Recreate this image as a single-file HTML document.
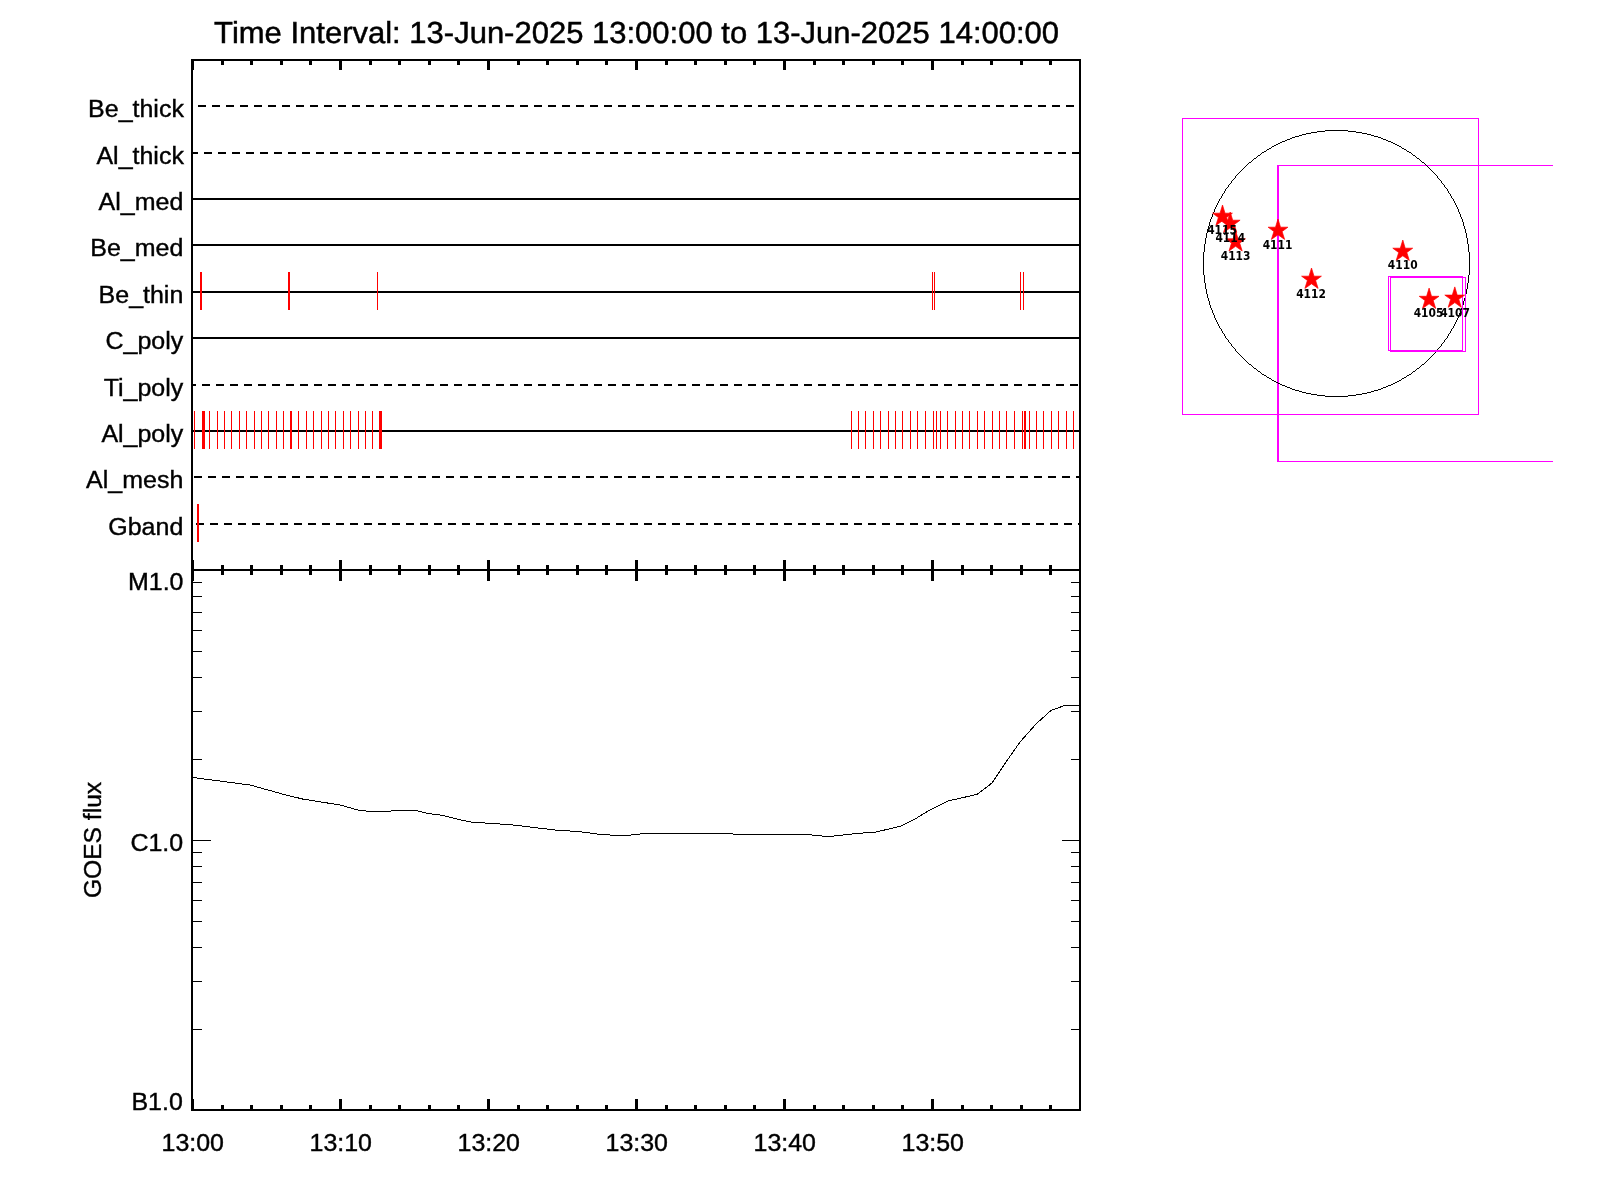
<!DOCTYPE html>
<html lang="en"><head><meta charset="utf-8"><title>Time Interval: 13-Jun-2025 13:00:00 to 13-Jun-2025 14:00:00</title>
<style>
html,body{margin:0;padding:0;background:#fff;}
body{width:1600px;height:1200px;overflow:hidden;}
svg{display:block;will-change:transform;}
text{font-family:"Liberation Sans",Arial,Helvetica,sans-serif;fill:#000;stroke:#000;stroke-width:0.4px;}
.lab{font-size:24.5px;text-anchor:end;}
.xl{font-size:24.5px;text-anchor:middle;}
.ttl{text-rendering:geometricPrecision;font-size:30.4px;text-anchor:middle;stroke-width:0.5px;}
.ar{stroke:none;font-family:"DejaVu Sans","Liberation Sans",sans-serif;font-weight:bold;font-size:10.7px;text-anchor:middle;}
.k{stroke:#000;fill:none;}
.r{fill:#f00;}
.m{stroke:#f0f;fill:none;stroke-width:1;}
</style></head><body>
<svg width="1600" height="1200" viewBox="0 0 1600 1200" shape-rendering="crispEdges">
<rect x="0" y="0" width="1600" height="1200" fill="#fff"/>
<text class="ttl" transform="translate(636.6,43) scale(1.02,1)">Time Interval: 13-Jun-2025 13:00:00 to 13-Jun-2025 14:00:00</text>
<line class="k" x1="192" y1="106" x2="1080" y2="106" stroke-width="2" stroke-dasharray="8 6" stroke-dashoffset="8"/>
<text class="lab" transform="translate(183.9,116.5) scale(1.02,1)">Be_thick</text>
<line class="k" x1="192" y1="153" x2="1080" y2="153" stroke-width="2" stroke-dasharray="8 6" stroke-dashoffset="2"/>
<text class="lab" transform="translate(183.9,163.5) scale(1.02,1)">Al_thick</text>
<line class="k" x1="192" y1="199" x2="1080" y2="199" stroke-width="2"/>
<text class="lab" transform="translate(183.3,209.5) scale(1.02,1)">Al_med</text>
<line class="k" x1="192" y1="245" x2="1080" y2="245" stroke-width="2"/>
<text class="lab" transform="translate(183.3,255.5) scale(1.02,1)">Be_med</text>
<line class="k" x1="192" y1="292" x2="1080" y2="292" stroke-width="2"/>
<text class="lab" transform="translate(183.3,302.5) scale(1.02,1)">Be_thin</text>
<line class="k" x1="192" y1="338" x2="1080" y2="338" stroke-width="2"/>
<text class="lab" transform="translate(183.3,348.5) scale(1.02,1)">C_poly</text>
<line class="k" x1="192" y1="385" x2="1080" y2="385" stroke-width="2" stroke-dasharray="8 6" stroke-dashoffset="4"/>
<text class="lab" transform="translate(183.3,395.5) scale(1.02,1)">Ti_poly</text>
<line class="k" x1="192" y1="431" x2="1080" y2="431" stroke-width="2"/>
<text class="lab" transform="translate(183.3,441.5) scale(1.02,1)">Al_poly</text>
<line class="k" x1="192" y1="477" x2="1080" y2="477" stroke-width="2" stroke-dasharray="8 6" stroke-dashoffset="12"/>
<text class="lab" transform="translate(183.3,487.5) scale(1.02,1)">Al_mesh</text>
<line class="k" x1="192" y1="524" x2="1080" y2="524" stroke-width="2" stroke-dasharray="8 6" stroke-dashoffset="10"/>
<text class="lab" transform="translate(183.3,534.5) scale(1.02,1)">Gband</text>
<rect class="r" x="200" y="272" width="2" height="38"/>
<rect class="r" x="288" y="272" width="2" height="38"/>
<rect class="r" x="377" y="272" width="1" height="38"/>
<rect class="r" x="932" y="272" width="1" height="38"/>
<rect class="r" x="934" y="272" width="1" height="38"/>
<rect class="r" x="1020" y="272" width="1" height="38"/>
<rect class="r" x="1023" y="272" width="1" height="38"/>
<rect class="r" x="194" y="411" width="1" height="38"/>
<rect class="r" x="202" y="411" width="3" height="38"/>
<rect class="r" x="209" y="411" width="1" height="38"/>
<rect class="r" x="217" y="411" width="1" height="38"/>
<rect class="r" x="224" y="411" width="1" height="38"/>
<rect class="r" x="231" y="411" width="1" height="38"/>
<rect class="r" x="239" y="411" width="1" height="38"/>
<rect class="r" x="246" y="411" width="1" height="38"/>
<rect class="r" x="254" y="411" width="1" height="38"/>
<rect class="r" x="261" y="411" width="1" height="38"/>
<rect class="r" x="268" y="411" width="1" height="38"/>
<rect class="r" x="276" y="411" width="1" height="38"/>
<rect class="r" x="283" y="411" width="1" height="38"/>
<rect class="r" x="290" y="411" width="2" height="38"/>
<rect class="r" x="298" y="411" width="1" height="38"/>
<rect class="r" x="306" y="411" width="1" height="38"/>
<rect class="r" x="313" y="411" width="1" height="38"/>
<rect class="r" x="321" y="411" width="1" height="38"/>
<rect class="r" x="328" y="411" width="1" height="38"/>
<rect class="r" x="335" y="411" width="1" height="38"/>
<rect class="r" x="343" y="411" width="1" height="38"/>
<rect class="r" x="350" y="411" width="1" height="38"/>
<rect class="r" x="358" y="411" width="1" height="38"/>
<rect class="r" x="365" y="411" width="1" height="38"/>
<rect class="r" x="372" y="411" width="1" height="38"/>
<rect class="r" x="379" y="411" width="3" height="38"/>
<rect class="r" x="851" y="411" width="1" height="38"/>
<rect class="r" x="858" y="411" width="1" height="38"/>
<rect class="r" x="865" y="411" width="1" height="38"/>
<rect class="r" x="873" y="411" width="1" height="38"/>
<rect class="r" x="880" y="411" width="1" height="38"/>
<rect class="r" x="888" y="411" width="1" height="38"/>
<rect class="r" x="895" y="411" width="1" height="38"/>
<rect class="r" x="902" y="411" width="1" height="38"/>
<rect class="r" x="910" y="411" width="1" height="38"/>
<rect class="r" x="917" y="411" width="1" height="38"/>
<rect class="r" x="925" y="411" width="1" height="38"/>
<rect class="r" x="933" y="411" width="1" height="38"/>
<rect class="r" x="936" y="411" width="1" height="38"/>
<rect class="r" x="940" y="411" width="1" height="38"/>
<rect class="r" x="947" y="411" width="1" height="38"/>
<rect class="r" x="955" y="411" width="1" height="38"/>
<rect class="r" x="962" y="411" width="1" height="38"/>
<rect class="r" x="969" y="411" width="1" height="38"/>
<rect class="r" x="977" y="411" width="1" height="38"/>
<rect class="r" x="984" y="411" width="1" height="38"/>
<rect class="r" x="992" y="411" width="1" height="38"/>
<rect class="r" x="999" y="411" width="1" height="38"/>
<rect class="r" x="1006" y="411" width="1" height="38"/>
<rect class="r" x="1014" y="411" width="1" height="38"/>
<rect class="r" x="1022" y="411" width="1" height="38"/>
<rect class="r" x="1029" y="411" width="1" height="38"/>
<rect class="r" x="1036" y="411" width="1" height="38"/>
<rect class="r" x="1043" y="411" width="1" height="38"/>
<rect class="r" x="1051" y="411" width="1" height="38"/>
<rect class="r" x="1058" y="411" width="1" height="38"/>
<rect class="r" x="1066" y="411" width="1" height="38"/>
<rect class="r" x="1073" y="411" width="1" height="38"/>
<rect class="r" x="1024" y="411" width="2" height="38"/>
<rect class="r" x="197" y="504" width="2" height="38"/>
<path class="k" stroke-width="2" d="M192 1110V60H1080V1110H191"/>
<line class="k" stroke-width="2" x1="192" y1="570" x2="1080" y2="570"/>
<rect x="191" y="59" width="3" height="11"/><rect x="191" y="560" width="3" height="21"/><rect x="191" y="1099" width="3" height="12"/>
<rect x="221" y="59" width="3" height="6"/><rect x="221" y="565" width="3" height="10"/><rect x="221" y="1105" width="3" height="6"/>
<rect x="250" y="59" width="3" height="6"/><rect x="250" y="565" width="3" height="10"/><rect x="250" y="1105" width="3" height="6"/>
<rect x="280" y="59" width="3" height="6"/><rect x="280" y="565" width="3" height="10"/><rect x="280" y="1105" width="3" height="6"/>
<rect x="309" y="59" width="3" height="6"/><rect x="309" y="565" width="3" height="10"/><rect x="309" y="1105" width="3" height="6"/>
<rect x="339" y="59" width="3" height="11"/><rect x="339" y="560" width="3" height="21"/><rect x="339" y="1099" width="3" height="12"/>
<rect x="369" y="59" width="3" height="6"/><rect x="369" y="565" width="3" height="10"/><rect x="369" y="1105" width="3" height="6"/>
<rect x="398" y="59" width="3" height="6"/><rect x="398" y="565" width="3" height="10"/><rect x="398" y="1105" width="3" height="6"/>
<rect x="428" y="59" width="3" height="6"/><rect x="428" y="565" width="3" height="10"/><rect x="428" y="1105" width="3" height="6"/>
<rect x="457" y="59" width="3" height="6"/><rect x="457" y="565" width="3" height="10"/><rect x="457" y="1105" width="3" height="6"/>
<rect x="487" y="59" width="3" height="11"/><rect x="487" y="560" width="3" height="21"/><rect x="487" y="1099" width="3" height="12"/>
<rect x="517" y="59" width="3" height="6"/><rect x="517" y="565" width="3" height="10"/><rect x="517" y="1105" width="3" height="6"/>
<rect x="546" y="59" width="3" height="6"/><rect x="546" y="565" width="3" height="10"/><rect x="546" y="1105" width="3" height="6"/>
<rect x="576" y="59" width="3" height="6"/><rect x="576" y="565" width="3" height="10"/><rect x="576" y="1105" width="3" height="6"/>
<rect x="605" y="59" width="3" height="6"/><rect x="605" y="565" width="3" height="10"/><rect x="605" y="1105" width="3" height="6"/>
<rect x="635" y="59" width="3" height="11"/><rect x="635" y="560" width="3" height="21"/><rect x="635" y="1099" width="3" height="12"/>
<rect x="665" y="59" width="3" height="6"/><rect x="665" y="565" width="3" height="10"/><rect x="665" y="1105" width="3" height="6"/>
<rect x="694" y="59" width="3" height="6"/><rect x="694" y="565" width="3" height="10"/><rect x="694" y="1105" width="3" height="6"/>
<rect x="724" y="59" width="3" height="6"/><rect x="724" y="565" width="3" height="10"/><rect x="724" y="1105" width="3" height="6"/>
<rect x="753" y="59" width="3" height="6"/><rect x="753" y="565" width="3" height="10"/><rect x="753" y="1105" width="3" height="6"/>
<rect x="783" y="59" width="3" height="11"/><rect x="783" y="560" width="3" height="21"/><rect x="783" y="1099" width="3" height="12"/>
<rect x="813" y="59" width="3" height="6"/><rect x="813" y="565" width="3" height="10"/><rect x="813" y="1105" width="3" height="6"/>
<rect x="842" y="59" width="3" height="6"/><rect x="842" y="565" width="3" height="10"/><rect x="842" y="1105" width="3" height="6"/>
<rect x="872" y="59" width="3" height="6"/><rect x="872" y="565" width="3" height="10"/><rect x="872" y="1105" width="3" height="6"/>
<rect x="901" y="59" width="3" height="6"/><rect x="901" y="565" width="3" height="10"/><rect x="901" y="1105" width="3" height="6"/>
<rect x="931" y="59" width="3" height="11"/><rect x="931" y="560" width="3" height="21"/><rect x="931" y="1099" width="3" height="12"/>
<rect x="961" y="59" width="3" height="6"/><rect x="961" y="565" width="3" height="10"/><rect x="961" y="1105" width="3" height="6"/>
<rect x="990" y="59" width="3" height="6"/><rect x="990" y="565" width="3" height="10"/><rect x="990" y="1105" width="3" height="6"/>
<rect x="1020" y="59" width="3" height="6"/><rect x="1020" y="565" width="3" height="10"/><rect x="1020" y="1105" width="3" height="6"/>
<rect x="1049" y="59" width="3" height="6"/><rect x="1049" y="565" width="3" height="10"/><rect x="1049" y="1105" width="3" height="6"/>
<path class="k" stroke-width="1" d="M192 759.5h10 M1080 759.5h-9 M192 711.5h10 M1080 711.5h-9 M192 677.5h10 M1080 677.5h-9 M192 651.5h10 M1080 651.5h-9 M192 630.5h10 M1080 630.5h-9 M192 612.5h10 M1080 612.5h-9 M192 596.5h10 M1080 596.5h-9 M192 582.5h10 M1080 582.5h-9 M192 1029.5h10 M1080 1029.5h-9 M192 981.5h10 M1080 981.5h-9 M192 947.5h10 M1080 947.5h-9 M192 921.5h10 M1080 921.5h-9 M192 900.5h10 M1080 900.5h-9 M192 882.5h10 M1080 882.5h-9 M192 866.5h10 M1080 866.5h-9 M192 852.5h10 M1080 852.5h-9 M192 840.5h19 M1080 840.5h-18"/>
<text class="lab" transform="translate(183.5,590) scale(1.02,1)">M1.0</text>
<text class="lab" transform="translate(183.2,851) scale(1.02,1)">C1.0</text>
<text class="lab" transform="translate(182.8,1110) scale(1.02,1)">B1.0</text>
<text class="xl" transform="translate(101.1,840) rotate(-90) scale(1.005,1)">GOES flux</text>
<text class="xl" transform="translate(192.75,1150.5) scale(1.02,1)">13:00</text>
<text class="xl" transform="translate(340.75,1150.5) scale(1.02,1)">13:10</text>
<text class="xl" transform="translate(488.75,1150.5) scale(1.02,1)">13:20</text>
<text class="xl" transform="translate(636.75,1150.5) scale(1.02,1)">13:30</text>
<text class="xl" transform="translate(784.75,1150.5) scale(1.02,1)">13:40</text>
<text class="xl" transform="translate(932.75,1150.5) scale(1.02,1)">13:50</text>
<polyline class="k" stroke-width="1" shape-rendering="crispEdges" points="192.8,777.5 250.0,785.0 283.8,794.4 302.5,799.0 340.0,805.0 358.8,810.3 368.0,811.2 390.6,811.2 394.4,810.3 415.0,810.3 428.0,813.5 443.0,815.4 461.9,820.2 471.2,822.0 490.0,823.4 510.0,824.6 555.0,830.0 579.4,831.6 600.0,834.4 615.0,835.3 628.0,835.3 645.0,833.4 732.0,833.4 734.0,834.4 806.0,834.4 822.0,836.0 834.0,836.0 856.0,833.6 876.0,832.0 900.0,826.4 916.0,818.4 930.0,810.0 948.0,801.0 977.0,794.4 992.0,783.0 1006.0,762.0 1020.0,742.0 1036.0,724.0 1051.0,710.4 1065.0,705.4 1079.0,705.4"/>
<rect class="m" x="1182.5" y="118.5" width="296" height="296"/>
<path class="m" d="M1553 165.5H1277.5V461.5H1553"/>
<path class="m" d="M1278.5 166V461"/>
<path fill="#000" d="M1317 395h8v1h-8zM1348 395h8v1h-8zM1299 135h3v1h-3zM1371 135h3v1h-3zM1317 131h8v1h-8zM1348 131h8v1h-8zM1299 391h3v1h-3zM1371 391h3v1h-3zM1295 136h4v1h-4zM1374 136h4v1h-4zM1311 132h6v1h-6zM1356 132h6v1h-6zM1325 396h23v1h-23zM1292 389h3v1h-3zM1378 389h3v1h-3zM1311 394h6v1h-6zM1356 394h6v1h-6zM1287 387h3v1h-3zM1383 387h3v1h-3zM1287 139h3v1h-3zM1383 139h3v1h-3zM1306 393h5v1h-5zM1362 393h5v1h-5zM1267 149h2v1h-2zM1404 149h2v1h-2zM1302 134h4v1h-4zM1367 134h4v1h-4zM1292 137h3v1h-3zM1378 137h3v1h-3zM1272 146h2v1h-2zM1399 146h2v1h-2zM1325 130h23v1h-23zM1264 151h2v1h-2zM1407 151h2v1h-2zM1282 385h3v1h-3zM1388 385h3v1h-3zM1302 392h4v1h-4zM1367 392h4v1h-4zM1249 162h2v1h-2zM1422 162h2v1h-2zM1249 364h2v1h-2zM1422 364h2v1h-2zM1276 382h2v1h-2zM1395 382h2v1h-2zM1269 378h2v1h-2zM1402 378h2v1h-2zM1274 145h2v1h-2zM1397 145h2v1h-2zM1282 141h3v1h-3zM1388 141h3v1h-3zM1295 390h4v1h-4zM1374 390h4v1h-4zM1272 380h2v1h-2zM1399 380h2v1h-2zM1278 143h2v1h-2zM1393 143h2v1h-2zM1290 388h2v1h-2zM1381 388h2v1h-2zM1285 140h2v1h-2zM1386 140h2v1h-2zM1290 138h2v1h-2zM1381 138h2v1h-2zM1267 377h2v1h-2zM1404 377h2v1h-2zM1306 133h5v1h-5zM1362 133h5v1h-5zM1262 374h2v1h-2zM1409 374h2v1h-2zM1264 375h2v1h-2zM1407 375h2v1h-2zM1285 386h2v1h-2zM1386 386h2v1h-2zM1254 158h2v1h-2zM1417 158h2v1h-2zM1258 155h2v1h-2zM1413 155h2v1h-2zM1274 381h2v1h-2zM1397 381h2v1h-2zM1262 152h2v1h-2zM1409 152h2v1h-2zM1280 142h2v1h-2zM1391 142h2v1h-2zM1278 383h2v1h-2zM1393 383h2v1h-2zM1280 384h2v1h-2zM1391 384h2v1h-2zM1269 148h2v1h-2zM1402 148h2v1h-2zM1276 144h2v1h-2zM1395 144h2v1h-2zM1258 371h2v1h-2zM1413 371h2v1h-2zM1254 368h2v1h-2zM1417 368h2v1h-2zM1453 199h1v2h-1zM1453 326h1v2h-1zM1456 205h1v2h-1zM1456 320h1v2h-1zM1218 201h1v2h-1zM1218 324h1v2h-1zM1464 226h1v3h-1zM1464 298h1v3h-1zM1229 184h1v1h-1zM1229 342h1v1h-1zM1449 193h1v1h-1zM1449 333h1v1h-1zM1205 238h1v6h-1zM1205 283h1v6h-1zM1214 209h1v3h-1zM1214 315h1v3h-1zM1466 233h1v5h-1zM1466 289h1v5h-1zM1207 229h1v4h-1zM1207 294h1v4h-1zM1204 244h1v8h-1zM1204 275h1v8h-1zM1460 214h1v3h-1zM1460 310h1v3h-1zM1457 207h1v2h-1zM1457 318h1v2h-1zM1437 176h1v2h-1zM1437 349h1v2h-1zM1209 222h1v4h-1zM1209 301h1v4h-1zM1210 219h1v3h-1zM1210 305h1v3h-1zM1213 212h1v2h-1zM1213 313h1v2h-1zM1260 154h1v1h-1zM1260 372h1v1h-1zM1462 219h1v3h-1zM1462 305h1v3h-1zM1224 191h1v2h-1zM1224 334h1v2h-1zM1438 178h1v1h-1zM1438 348h1v1h-1zM1429 168h1v1h-1zM1429 358h1v1h-1zM1221 196h1v2h-1zM1221 329h1v2h-1zM1467 238h1v6h-1zM1467 283h1v6h-1zM1208 226h1v3h-1zM1208 298h1v3h-1zM1445 187h1v1h-1zM1445 339h1v1h-1zM1217 203h1v2h-1zM1217 322h1v2h-1zM1212 214h1v3h-1zM1212 310h1v3h-1zM1463 222h1v4h-1zM1463 301h1v4h-1zM1424 163h1v1h-1zM1424 363h1v1h-1zM1203 252h1v23h-1zM1452 198h1v1h-1zM1452 328h1v1h-1zM1237 174h1v1h-1zM1237 352h1v1h-1zM1430 169h1v1h-1zM1430 357h1v1h-1zM1465 229h1v4h-1zM1465 294h1v4h-1zM1431 170h1v1h-1zM1431 356h1v1h-1zM1469 252h1v23h-1zM1401 147h1v1h-1zM1401 379h1v1h-1zM1448 191h1v2h-1zM1448 334h1v2h-1zM1228 185h1v2h-1zM1228 340h1v2h-1zM1240 171h1v1h-1zM1240 355h1v1h-1zM1238 173h1v1h-1zM1238 353h1v1h-1zM1239 172h1v1h-1zM1239 354h1v1h-1zM1225 189h1v2h-1zM1225 336h1v2h-1zM1419 159h1v1h-1zM1419 367h1v1h-1zM1441 181h1v2h-1zM1441 344h1v2h-1zM1444 185h1v2h-1zM1444 340h1v2h-1zM1459 212h1v2h-1zM1459 313h1v2h-1zM1468 244h1v8h-1zM1468 275h1v8h-1zM1232 180h1v1h-1zM1232 346h1v1h-1zM1206 233h1v5h-1zM1206 289h1v5h-1zM1227 187h1v1h-1zM1227 339h1v1h-1zM1246 165h1v1h-1zM1246 361h1v1h-1zM1436 175h1v1h-1zM1436 351h1v1h-1zM1216 205h1v2h-1zM1216 320h1v2h-1zM1439 179h1v1h-1zM1439 347h1v1h-1zM1451 196h1v2h-1zM1451 329h1v2h-1zM1231 181h1v2h-1zM1231 344h1v2h-1zM1219 199h1v2h-1zM1219 326h1v2h-1zM1261 153h1v1h-1zM1261 373h1v1h-1zM1251 161h1v1h-1zM1251 365h1v1h-1zM1420 160h1v1h-1zM1420 366h1v1h-1zM1455 203h1v2h-1zM1455 322h1v2h-1zM1244 167h1v1h-1zM1244 359h1v1h-1zM1447 189h1v2h-1zM1447 336h1v2h-1zM1215 207h1v2h-1zM1215 318h1v2h-1zM1245 166h1v1h-1zM1245 360h1v1h-1zM1425 164h1v1h-1zM1425 362h1v1h-1zM1415 156h1v1h-1zM1415 370h1v1h-1zM1426 165h1v1h-1zM1426 361h1v1h-1zM1211 217h1v2h-1zM1211 308h1v2h-1zM1256 157h1v1h-1zM1256 369h1v1h-1zM1226 188h1v1h-1zM1226 338h1v1h-1zM1458 209h1v3h-1zM1458 315h1v3h-1zM1230 183h1v1h-1zM1230 343h1v1h-1zM1411 153h1v1h-1zM1411 373h1v1h-1zM1440 180h1v1h-1zM1440 346h1v1h-1zM1454 201h1v2h-1zM1454 324h1v2h-1zM1222 194h1v2h-1zM1222 331h1v2h-1zM1234 178h1v1h-1zM1234 348h1v1h-1zM1406 150h1v1h-1zM1406 376h1v1h-1zM1252 160h1v1h-1zM1252 366h1v1h-1zM1450 194h1v2h-1zM1450 331h1v2h-1zM1241 170h1v1h-1zM1241 356h1v1h-1zM1432 171h1v1h-1zM1432 355h1v1h-1zM1421 161h1v1h-1zM1421 365h1v1h-1zM1435 174h1v1h-1zM1435 352h1v1h-1zM1233 179h1v1h-1zM1233 347h1v1h-1zM1266 150h1v1h-1zM1266 376h1v1h-1zM1253 159h1v1h-1zM1253 367h1v1h-1zM1442 183h1v1h-1zM1442 343h1v1h-1zM1257 156h1v1h-1zM1257 370h1v1h-1zM1461 217h1v2h-1zM1461 308h1v2h-1zM1443 184h1v1h-1zM1443 342h1v1h-1zM1446 188h1v1h-1zM1446 338h1v1h-1zM1247 164h1v1h-1zM1247 362h1v1h-1zM1433 172h1v1h-1zM1433 354h1v1h-1zM1416 157h1v1h-1zM1416 369h1v1h-1zM1271 147h1v1h-1zM1271 379h1v1h-1zM1427 166h1v1h-1zM1427 360h1v1h-1zM1248 163h1v1h-1zM1248 363h1v1h-1zM1428 167h1v1h-1zM1428 359h1v1h-1zM1434 173h1v1h-1zM1434 353h1v1h-1zM1412 154h1v1h-1zM1412 372h1v1h-1zM1235 176h1v2h-1zM1235 349h1v2h-1zM1236 175h1v1h-1zM1236 351h1v1h-1zM1242 169h1v1h-1zM1242 357h1v1h-1zM1243 168h1v1h-1zM1243 358h1v1h-1zM1220 198h1v1h-1zM1220 328h1v1h-1zM1223 193h1v1h-1zM1223 333h1v1h-1z"/>
<rect class="m" x="1388.5" y="276.5" width="74" height="73.5"/>
<rect class="m" x="1390.5" y="277.5" width="75" height="74"/>
<polygon class="r" shape-rendering="geometricPrecision" stroke="#f00" stroke-width="0.7" stroke-miterlimit="10" points="1222.5,205.0 1225.0,213.2 1232.4,213.2 1226.6,217.5 1229.1,225.4 1222.5,220.8 1215.9,225.4 1218.4,217.5 1212.6,213.2 1220.0,213.2"/>
<polygon class="r" shape-rendering="geometricPrecision" stroke="#f00" stroke-width="0.7" stroke-miterlimit="10" points="1230.2,212.0 1232.7,220.2 1240.1,220.2 1234.3,224.5 1236.8,232.4 1230.2,227.8 1223.6,232.4 1226.1,224.5 1220.3,220.2 1227.8,220.2"/>
<polygon class="r" shape-rendering="geometricPrecision" stroke="#f00" stroke-width="0.7" stroke-miterlimit="10" points="1235.6,230.6 1238.0,238.8 1245.5,238.8 1239.7,243.1 1242.2,251.0 1235.6,246.3 1229.0,251.0 1231.5,243.1 1225.7,238.8 1233.1,238.8"/>
<polygon class="r" shape-rendering="geometricPrecision" stroke="#f00" stroke-width="0.7" stroke-miterlimit="10" points="1278.0,219.0 1280.5,227.2 1287.9,227.2 1282.1,231.5 1284.6,239.4 1278.0,234.8 1271.4,239.4 1273.9,231.5 1268.1,227.2 1275.5,227.2"/>
<polygon class="r" shape-rendering="geometricPrecision" stroke="#f00" stroke-width="0.7" stroke-miterlimit="10" points="1311.5,268.0 1314.0,276.2 1321.4,276.2 1315.6,280.4 1318.1,288.4 1311.5,283.8 1304.9,288.4 1307.4,280.4 1301.6,276.2 1309.0,276.2"/>
<polygon class="r" shape-rendering="geometricPrecision" stroke="#f00" stroke-width="0.7" stroke-miterlimit="10" points="1402.8,240.0 1405.2,248.2 1412.7,248.2 1406.8,252.5 1409.3,260.4 1402.8,255.8 1396.2,260.4 1398.7,252.5 1392.8,248.2 1400.3,248.2"/>
<polygon class="r" shape-rendering="geometricPrecision" stroke="#f00" stroke-width="0.7" stroke-miterlimit="10" points="1429.1,288.1 1431.5,296.3 1439.0,296.3 1433.2,300.5 1435.7,308.5 1429.1,303.8 1422.5,308.5 1425.0,300.5 1419.2,296.3 1426.6,296.3"/>
<polygon class="r" shape-rendering="geometricPrecision" stroke="#f00" stroke-width="0.7" stroke-miterlimit="10" points="1454.8,286.9 1457.2,295.1 1464.7,295.1 1458.8,299.3 1461.3,307.3 1454.8,302.6 1448.2,307.3 1450.7,299.3 1444.8,295.1 1452.3,295.1"/>
<text class="ar" transform="translate(1222,234) scale(1,1.17)">4115</text>
<text class="ar" transform="translate(1230.3,241.5) scale(1,1.17)">4114</text>
<text class="ar" transform="translate(1235.6,259.5) scale(1,1.17)">4113</text>
<text class="ar" transform="translate(1277.5,249) scale(1,1.17)">4111</text>
<text class="ar" transform="translate(1311,297.5) scale(1,1.17)">4112</text>
<text class="ar" transform="translate(1402.7,269.4) scale(1,1.17)">4110</text>
<text class="ar" transform="translate(1428.5,317) scale(1,1.17)">4105</text>
<text class="ar" transform="translate(1455,316.6) scale(1,1.17)">4107</text>
</svg></body></html>
